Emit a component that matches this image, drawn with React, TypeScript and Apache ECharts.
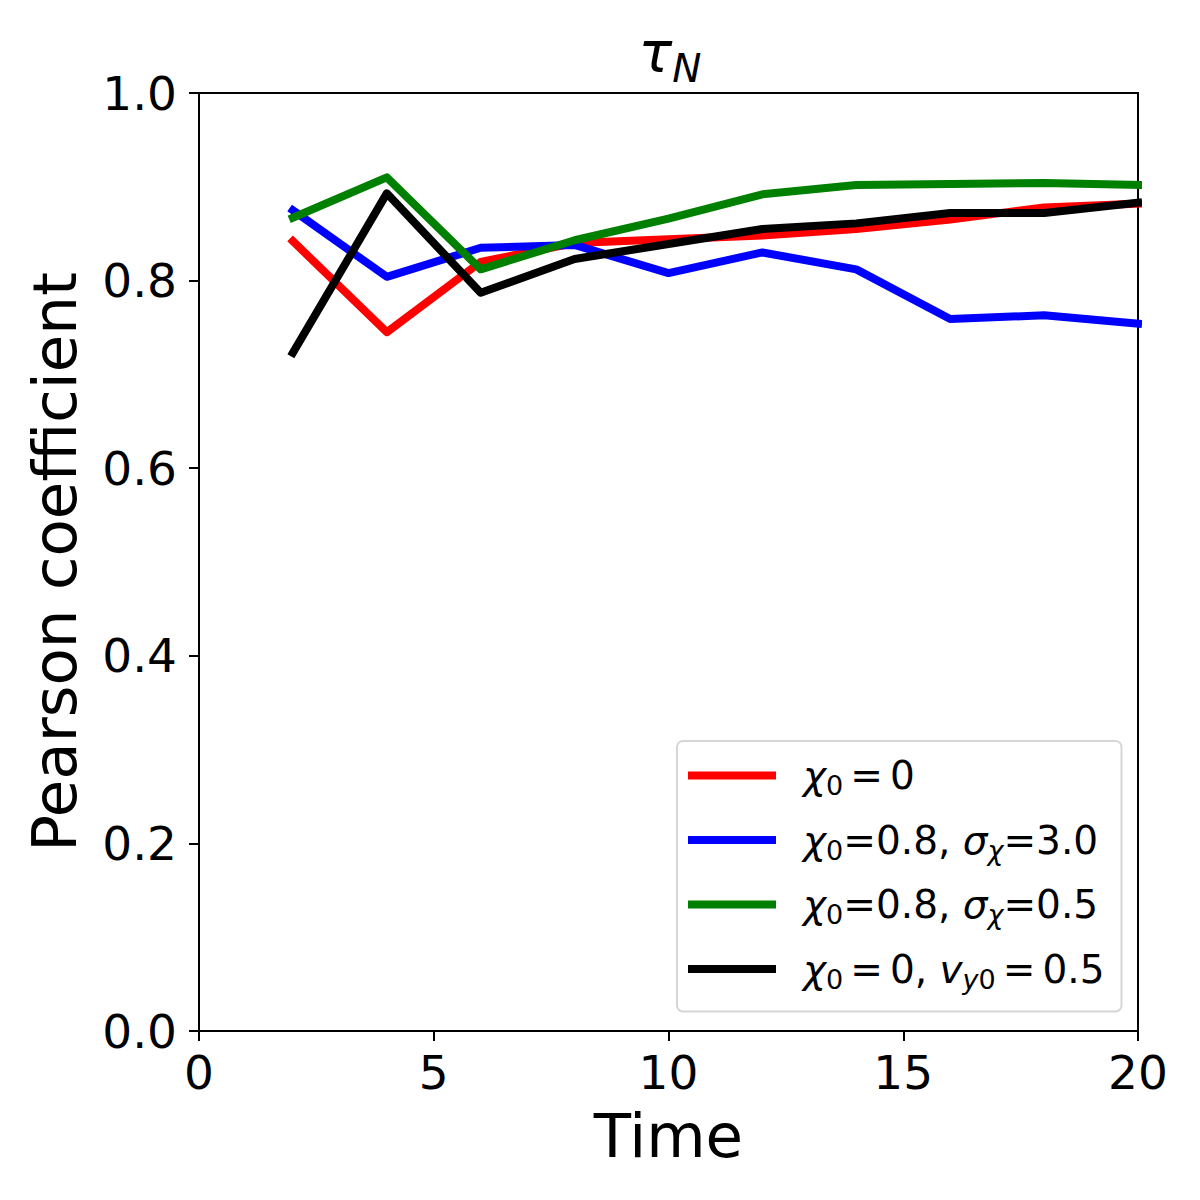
import React, { useEffect, useRef } from "react";
import * as echarts from "echarts";

const time = [2, 4, 6, 8, 10, 12, 14, 16, 18, 20];
const redVals = [0.842, 0.745, 0.82, 0.84, 0.844, 0.848, 0.855, 0.865, 0.878, 0.882];
const blueVals = [0.875, 0.804, 0.835, 0.838, 0.808, 0.83, 0.812, 0.759, 0.763, 0.754];
const greenVals = [0.867, 0.91, 0.812, 0.843, 0.866, 0.892, 0.902, 0.903, 0.904, 0.902];
const blackVals = [0.723, 0.893, 0.787, 0.823, 0.839, 0.855, 0.861, 0.872, 0.872, 0.883];

const seriesNames = ["s_chi0", "s_chi08_sig3", "s_chi08_sig05", "s_chi0_vy"];
const seriesColors = ["#ff0000", "#0000ff", "#008000", "#000000"];
const legendLabels = [
  "{i|χ}{s|0}{eq|=}{n|0}",
  "{i|χ}{s|0}{n|=0.8, }{i|σ}{si|χ}{n|=3.0}",
  "{i|χ}{s|0}{n|=0.8, }{i|σ}{si|χ}{n|=0.5}",
  "{i|χ}{s|0}{eq|=}{n|0, }{i|v}{si|y}{s|0}{eq|=}{n|0.5}",
];

const xTicks = { min: 0, max: 20, interval: 5 };
const yTicks = { min: 0, max: 1, interval: 0.2 };

const F = "DejaVu Sans";

export default function App() {
  const ref = useRef<HTMLDivElement>(null);
  useEffect(() => {
    document.body.style.margin = "0";
    const chart = echarts.init(ref.current!, null, { renderer: "svg" });
    const values = [redVals, blueVals, greenVals, blackVals];
    const base = { fontFamily: F, color: "#000", fontWeight: "normal" as const, verticalAlign: "middle" as const };
    chart.setOption({
      animation: false,
      backgroundColor: "#ffffff",
      title: {
        text: "{t|τ}{s|N}",
        left: 670,
        top: 20,
        padding: 0,
        textAlign: "center",
        textStyle: {
          fontWeight: "normal",
          rich: {
            t: { ...base, fontSize: 56, fontStyle: "italic", lineHeight: 64 },
            s: { ...base, fontSize: 39, fontStyle: "italic", lineHeight: 40, padding: [32, 0, 0, 0] },
          },
        },
      },
      grid: {
        left: 199,
        right: 62,
        top: 93,
        bottom: 169,
        show: true,
        borderColor: "#000",
        borderWidth: 2,
        backgroundColor: "transparent",
      },
      xAxis: {
        type: "value",
        min: xTicks.min,
        max: xTicks.max,
        interval: xTicks.interval,
        name: "Time",
        nameLocation: "middle",
        nameGap: 74,
        nameTextStyle: { fontFamily: F, fontSize: 61, color: "#000" },
        axisLine: { show: true, lineStyle: { color: "#000", width: 2 } },
        axisTick: { show: true, inside: false, length: 10, lineStyle: { color: "#000", width: 2 } },
        axisLabel: { fontFamily: F, fontSize: 47, color: "#000", margin: 18 },
        splitLine: { show: false },
      },
      yAxis: {
        type: "value",
        min: yTicks.min,
        max: yTicks.max,
        interval: yTicks.interval,
        name: "Pearson coefficient",
        nameLocation: "middle",
        nameGap: 114,
        nameRotate: 90,
        nameTextStyle: { fontFamily: F, fontSize: 61, color: "#000" },
        axisLine: { show: true, lineStyle: { color: "#000", width: 2 } },
        axisTick: { show: true, inside: false, length: 10, lineStyle: { color: "#000", width: 2 } },
        axisLabel: {
          fontFamily: F,
          fontSize: 47,
          color: "#000",
          margin: 22,
          formatter: (v: number) => v.toFixed(1),
        },
        splitLine: { show: false },
      },
      legend: {
        orient: "vertical",
        left: 677,
        top: 741,
        padding: [11, 17, 19, 11],
        itemGap: 17.5,
        itemWidth: 88,
        itemHeight: 8,
        icon: "rect",
        borderColor: "#d6d6d6",
        borderWidth: 2,
        borderRadius: 6,
        backgroundColor: "rgba(255,255,255,0.8)",
        data: seriesNames,
        formatter: (name: string) => legendLabels[seriesNames.indexOf(name)],
        textStyle: {
          padding: [0, 0, 0, 22],
          rich: {
            n: { ...base, fontSize: 39, lineHeight: 46 },
            eq: { ...base, fontSize: 39, lineHeight: 46, padding: [0, 7, 0, 7] },
            i: { ...base, fontSize: 39, fontStyle: "italic", lineHeight: 46 },
            s: { ...base, fontSize: 27, lineHeight: 26, padding: [20, 0, 0, 0] },
            si: { ...base, fontSize: 27, fontStyle: "italic", lineHeight: 26, padding: [20, 0, 0, 0] },
          },
        },
      },
      series: values.map((vals, k) => ({
        name: seriesNames[k],
        type: "line",
        data: time.map((t, j) => [t, vals[j]]),
        symbol: "none",
        clip: true,
        color: seriesColors[k],
        itemStyle: { color: seriesColors[k] },
        lineStyle: { color: seriesColors[k], width: 8, join: "round", cap: "square" },
        z: 2 + k,
      })),
    });
    return () => chart.dispose();
  }, []);
  return <div ref={ref} style={{ width: 1200, height: 1200 }} />;
}
